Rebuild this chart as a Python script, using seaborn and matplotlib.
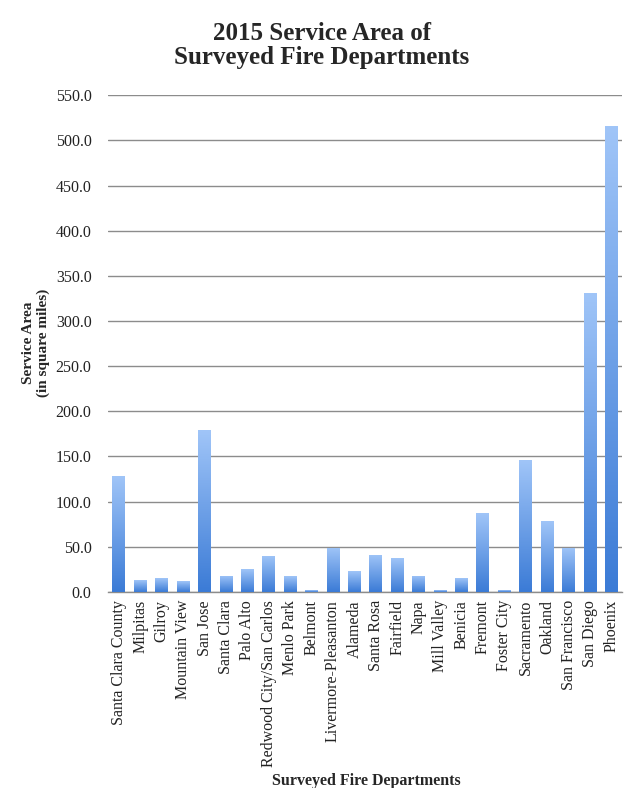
import numpy as np
import pandas as pd
import matplotlib
matplotlib.use("Agg")
import matplotlib.pyplot as plt
import seaborn as sns
from matplotlib.colors import LinearSegmentedColormap

departments = ["Santa Clara County", "Milpitas", "Gilroy", "Mountain View", "San Jose",
               "Santa Clara", "Palo Alto", "Redwood City/San Carlos", "Menlo Park", "Belmont",
               "Livermore-Pleasanton", "Alameda", "Santa Rosa", "Fairfield", "Napa",
               "Mill Valley", "Benicia", "Fremont", "Foster City", "Sacramento",
               "Oakland", "San Francisco", "San Diego", "Phoenix"]
service_area = [128, 13, 15, 12, 179, 18, 25, 40, 17, 2, 49, 22.5, 41, 37.5, 18,
                2, 15, 87, 1.5, 146, 78, 49, 331, 516]
yticks = [0, 50, 100, 150, 200, 250, 300, 350, 400, 450, 500, 550]

df = pd.DataFrame({"dept": departments, "area": service_area})

sns.set_style("white")
plt.rcParams['font.family'] = ['Liberation Serif', 'DejaVu Serif']

fig = plt.figure(figsize=(6.44, 7.88), dpi=100)
ax = fig.add_axes([0.168, 0.249, 0.798, 0.630])

sns.barplot(data=df, x="dept", y="area", color="#4a88e0", width=0.6, ax=ax,
            edgecolor="none", zorder=3)

ax.set_ylim(0, 550)
ax.set_xlim(-0.5, len(departments) - 0.5)
ax.set_yticks(yticks)
ax.set_yticklabels([f"{v:.1f}" for v in yticks], fontsize=11.5, color="#222222")
ax.yaxis.grid(True, color="#8c8c8c", linewidth=1.0, zorder=0)
ax.set_axisbelow(True)
ax.tick_params(axis="y", length=0, pad=12)
ax.tick_params(axis="x", length=0, pad=6)
ax.set_xticks(range(len(departments)))
ax.set_xticklabels(departments, rotation=90, fontsize=11.5, color="#222222")
for s in ["top", "right", "left"]:
    ax.spines[s].set_visible(False)
ax.spines["bottom"].set_color("#8c8c8c")
ax.spines["bottom"].set_linewidth(1.0)

# gradient fill for each bar
cmap = LinearSegmentedColormap.from_list("grad", ["#3b7bd6", "#a0c5f8"])
grad = np.linspace(0, 1, 256).reshape(-1, 1)
for p in list(ax.patches):
    x0, y0 = p.get_x(), p.get_y()
    w, h = p.get_width(), p.get_height()
    if h <= 0:
        continue
    p.set_facecolor("none")
    im = ax.imshow(grad, cmap=cmap, aspect="auto", origin="lower",
                   extent=[x0, x0 + w, y0, y0 + h], zorder=4)
    im.set_clip_path(p)
ax.set_xlim(-0.5, len(departments) - 0.5)
ax.set_ylim(0, 550)

ax.set_xlabel("")
ax.set_ylabel("")
fig.text(36 / 644, 1 - 343 / 788, "Service Area\n(in square miles)", rotation=90,
         ha="center", va="center", fontsize=11, fontweight="bold", linespacing=1.1)
fig.text(366 / 644, 1 - 785 / 788, "Surveyed Fire Departments", ha="center", va="baseline",
         fontsize=11.5, fontweight="bold")
fig.text(0.5, 1 - 22 / 788, "2015 Service Area of\nSurveyed Fire Departments", ha="center", va="top",
         fontsize=18, fontweight="bold", linespacing=1.08)

fig.savefig("out.png", dpi=100)
